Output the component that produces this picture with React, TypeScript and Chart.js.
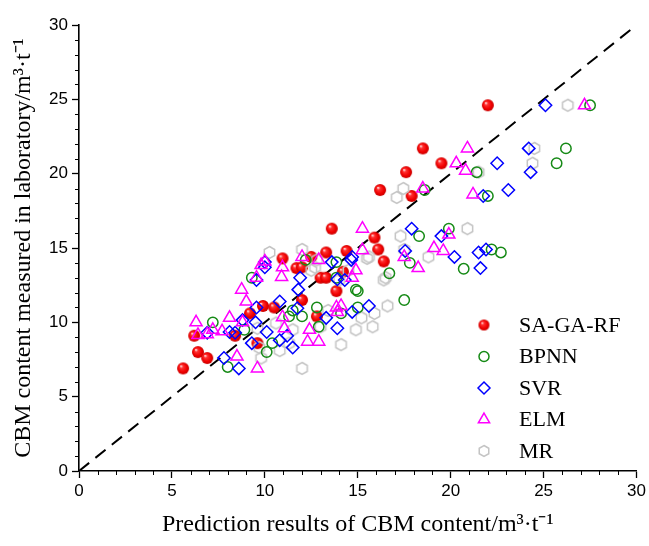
import React, { useEffect, useRef } from 'react';
import { Chart, registerables } from 'chart.js';
import { drawPoint } from 'chart.js/helpers';

Chart.register(...registerables);

const AXIS_MIN = 0;
const AXIS_MAX = 30;
const MAJOR_STEP = 5;
const MINOR_STEP = 1;
const xTitle = 'Prediction results of CBM content/m\u00B3\u00B7t\u207B\u00B9';
const yTitle = 'CBM content measured in laboratory/m\u00B3\u00B7t\u207B\u00B9';
const seriesNames = ['SA-GA-RF', 'BPNN', 'SVR', 'ELM', 'MR'];
const diagonal = [[0, 0], [30, 30]];

const saGaRf = [
  [5.6, 6.9], [6.4, 8.0], [6.9, 7.6], [6.2, 9.1], [8.4, 9.1], [9.2, 10.6], [9.9, 11.1],
  [10.5, 11.0], [9.6, 8.6], [10.95, 14.3], [11.7, 13.65], [12.0, 13.7], [12.5, 14.4],
  [13.3, 14.7], [14.4, 14.8], [13.0, 13.0], [13.3, 13.0], [13.85, 12.1], [14.2, 13.4],
  [12.0, 11.5], [12.8, 10.4], [13.6, 16.3], [15.9, 15.7], [16.1, 14.9], [16.4, 14.1],
  [22.0, 24.6], [18.5, 21.7], [19.5, 20.7], [17.6, 20.1], [16.2, 18.9], [17.9, 18.5],
];
const bpnn = [
  [7.2, 10.0], [8.0, 7.0], [10.1, 8.0], [10.4, 8.6], [9.3, 13.0], [8.9, 9.5], [13.85, 13.0],
  [14.9, 12.2], [12.8, 11.0], [15.0, 11.0], [11.5, 10.8], [12.0, 10.4], [12.9, 9.7],
  [13.85, 14.05], [16.7, 13.3], [14.1, 10.6], [12.2, 14.2], [27.5, 24.6], [26.2, 21.7],
  [25.7, 20.7], [21.4, 20.1], [18.6, 18.9], [22.0, 18.5], [19.9, 16.3], [18.3, 15.8],
  [22.2, 14.9], [22.7, 14.7], [20.7, 13.6], [17.8, 14.0], [15.0, 12.1], [17.5, 11.5], [11.3, 10.4],
];
const svr = [
  [6.9, 9.3], [8.1, 9.35], [8.4, 9.3], [9.3, 8.6], [7.8, 7.6], [8.6, 6.9], [10.1, 9.35],
  [10.0, 13.7], [9.55, 11.0], [9.5, 10.0], [8.8, 10.15], [10.0, 14.05], [9.55, 12.85],
  [11.9, 13.0], [11.8, 12.2], [13.6, 14.05], [14.65, 14.2], [14.3, 12.85], [10.8, 11.4],
  [11.75, 10.95], [13.3, 10.3], [13.9, 9.6], [14.7, 10.7], [15.6, 11.1], [11.2, 9.1],
  [10.8, 8.8], [11.5, 8.3], [25.1, 24.6], [24.2, 21.7], [24.3, 20.1], [22.5, 20.7],
  [23.1, 18.9], [21.75, 18.5], [17.9, 16.3], [19.5, 15.8], [21.5, 14.7], [21.9, 14.9],
  [21.6, 13.65], [20.2, 14.4], [17.55, 14.8], [14.7, 14.4], [13.9, 12.9],
];
const elm = [
  [6.3, 10.0], [8.1, 10.3], [8.8, 10.0], [7.2, 9.5], [7.7, 9.4], [6.4, 9.15], [6.9, 9.2],
  [8.5, 7.7], [9.6, 6.9], [8.75, 12.2], [9.0, 11.4], [9.55, 13.0], [9.8, 13.85], [10.0, 14.1],
  [15.25, 16.3], [15.25, 14.85], [10.95, 13.7], [10.9, 13.05], [12.0, 14.4], [12.9, 14.2],
  [14.7, 13.0], [14.9, 13.5], [13.85, 11.0], [14.1, 11.1], [10.95, 10.35], [12.4, 9.5],
  [12.3, 8.7], [12.9, 8.7], [11.05, 9.6], [13.9, 10.7], [27.2, 24.6], [20.9, 21.7],
  [20.3, 20.7], [20.8, 20.2], [18.5, 19.0], [21.2, 18.6], [19.9, 15.9], [19.1, 15.0],
  [19.6, 14.8], [17.5, 14.4], [18.25, 13.65],
];
const mr = [
  [26.3, 24.6], [24.5, 21.7], [24.4, 20.7], [21.5, 20.1], [17.45, 19.0], [17.1, 18.4],
  [20.9, 16.3], [17.3, 15.8], [18.8, 14.4], [15.6, 14.4], [16.5, 13.0], [17.5, 14.9],
  [16.6, 11.1], [10.25, 14.7], [16.4, 12.85], [15.9, 10.6], [15.2, 10.3], [15.8, 9.7],
  [14.9, 9.5], [12.5, 13.5], [14.0, 12.85], [14.5, 13.5], [13.0, 9.7], [12.0, 14.9],
  [12.8, 14.2], [12.7, 13.7], [15.5, 14.3], [14.1, 8.5], [13.4, 10.8], [10.6, 9.95],
  [9.6, 9.6], [11.3, 8.6], [9.7, 8.3], [9.8, 7.6], [10.8, 8.1], [12.0, 6.9], [11.5, 9.5],
];

const toPts = (arr: number[][]) => arr.map(([x, y]) => ({ x, y }));

function makeSphere(r: number): HTMLCanvasElement {
  const s = Math.ceil(r * 2) + 2;
  const c = document.createElement('canvas');
  c.width = s; c.height = s;
  const g = c.getContext('2d')!;
  const cx = s / 2, cy = s / 2;
  const grad = g.createRadialGradient(cx - r * 0.35, cy - r * 0.4, r * 0.05, cx, cy, r);
  grad.addColorStop(0, '#ffe6e6');
  grad.addColorStop(0.25, '#ff3030');
  grad.addColorStop(0.7, '#f00000');
  grad.addColorStop(1, '#c80000');
  g.fillStyle = grad;
  g.beginPath(); g.arc(cx, cy, r, 0, Math.PI * 2); g.fill();
  return c;
}

function makeHex(r: number, color: string, lw: number): HTMLCanvasElement {
  const s = Math.ceil(r * 2 + lw * 2) + 2;
  const c = document.createElement('canvas');
  c.width = s; c.height = s;
  const g = c.getContext('2d')!;
  const cx = s / 2, cy = s / 2;
  g.strokeStyle = color; g.lineWidth = lw;
  g.beginPath();
  for (let k = 0; k < 6; k++) {
    const a = -Math.PI / 2 + (k * Math.PI) / 3;
    const px = cx + r * Math.cos(a), py = cy + r * Math.sin(a);
    if (k === 0) g.moveTo(px, py); else g.lineTo(px, py);
  }
  g.closePath(); g.stroke();
  return c;
}

export default function App() {
  const ref = useRef<HTMLCanvasElement | null>(null);
  useEffect(() => {
    document.body.style.margin = '0';
    const sphere = makeSphere(6);
    const hex = makeHex(6, '#c4c4c4', 1.5);
    const sphereLg = makeSphere(5.5);
    const hexLg = makeHex(5.5, '#c4c4c4', 1.5);

    const legendDefs = [
      { label: seriesNames[0], style: sphereLg, radius: 5.5, color: '#f00', lw: 0 },
      { label: seriesNames[1], style: 'circle', radius: 5, color: '#168a16', lw: 1.5 },
      { label: seriesNames[2], style: 'rectRot', radius: 6, color: '#0000ff', lw: 1.5 },
      { label: seriesNames[3], style: 'triangle', radius: 6.5, color: '#ff00ff', lw: 1.5 },
      { label: seriesNames[4], style: hexLg, radius: 5.5, color: '#c4c4c4', lw: 0 },
    ];

    const minorTicks = {
      id: 'minorTicks',
      afterDraw(chart: any) {
        const ctx = chart.ctx;
        const xs = chart.scales.x, ys = chart.scales.y;
        ctx.save();
        ctx.strokeStyle = '#000';
        ctx.lineWidth = 1;
        for (let v = AXIS_MIN; v <= AXIS_MAX; v += MINOR_STEP) {
          if (v % MAJOR_STEP === 0) continue;
          const px = Math.round(xs.getPixelForValue(v)) + 0.5;
          ctx.beginPath(); ctx.moveTo(px, ys.bottom); ctx.lineTo(px, ys.bottom + 4); ctx.stroke();
          const py = Math.round(ys.getPixelForValue(v)) + 0.5;
          ctx.beginPath(); ctx.moveTo(xs.left, py); ctx.lineTo(xs.left - 4, py); ctx.stroke();
        }
        // legend
        const lx = 484, tx = 519;
        const y0 = 325, dy = 31.5;
        ctx.font = '22px "Liberation Serif", "Times New Roman", serif';
        ctx.textBaseline = 'middle';
        ctx.textAlign = 'left';
        legendDefs.forEach((d, i) => {
          const y = y0 + i * dy;
          ctx.save();
          ctx.strokeStyle = d.color;
          ctx.fillStyle = 'rgba(0,0,0,0)';
          ctx.lineWidth = d.lw;
          drawPoint(ctx, { pointStyle: d.style as any, radius: d.radius, rotation: 0, borderWidth: d.lw }, lx, y);
          ctx.restore();
          ctx.fillStyle = '#000';
          ctx.fillText(d.label, tx, y + 1);
        });
        ctx.restore();
      },
    };

    const tickFont = { family: '"Liberation Sans", Arial, sans-serif', size: 17 };
    const titleFont = { family: '"Liberation Serif", "Times New Roman", serif', size: 24 };

    const chart = new Chart(ref.current!, {
      type: 'scatter',
      data: {
        datasets: [
          {
            type: 'line', label: 'y=x', data: toPts(diagonal), borderColor: '#000', borderWidth: 2,
            borderDash: [13, 8], pointRadius: 0, fill: false, order: 10,
          } as any,
          {
            label: seriesNames[0], data: toPts(saGaRf), pointStyle: sphere, pointRadius: 6, order: 5,
            backgroundColor: '#f00', borderColor: '#f00',
          },
          {
            label: seriesNames[4], data: toPts(mr), pointStyle: hex, pointRadius: 6, order: 4,
            backgroundColor: 'rgba(0,0,0,0)', borderColor: '#c4c4c4',
          },
          {
            label: seriesNames[1], data: toPts(bpnn), pointStyle: 'circle', pointRadius: 5.2, order: 3,
            backgroundColor: 'rgba(0,0,0,0)', borderColor: '#168a16', borderWidth: 1.5,
          },
          {
            label: seriesNames[2], data: toPts(svr), pointStyle: 'rectRot', pointRadius: 6.2, order: 2,
            backgroundColor: 'rgba(0,0,0,0)', borderColor: '#0000ff', borderWidth: 1.5,
          },
          {
            label: seriesNames[3], data: toPts(elm), pointStyle: 'triangle', pointRadius: 7, order: 1,
            backgroundColor: 'rgba(0,0,0,0)', borderColor: '#ff00ff', borderWidth: 1.5,
          },
        ],
      },
      options: {
        animation: false,
        responsive: false,
        layout: { padding: { top: 25, right: 11, left: 0, bottom: 0 } },
        plugins: { legend: { display: false }, tooltip: { enabled: false } },
        scales: {
          x: {
            type: 'linear', min: AXIS_MIN, max: AXIS_MAX,
            ticks: { stepSize: MAJOR_STEP, color: '#000', font: tickFont, padding: 3, maxRotation: 0 },
            grid: { drawOnChartArea: false, drawTicks: true, tickLength: 7, tickColor: '#000', tickWidth: 1.3 },
            border: { display: true, color: '#000', width: 1.6 },
            title: { display: true, text: xTitle, color: '#000', font: titleFont, padding: { top: 0, bottom: 7 } },
            afterFit: (s: any) => { s.height = 75; },
          },
          y: {
            type: 'linear', min: AXIS_MIN, max: AXIS_MAX,
            ticks: { stepSize: MAJOR_STEP, color: '#000', font: tickFont, padding: 4 },
            grid: { drawOnChartArea: false, drawTicks: true, tickLength: 7, tickColor: '#000', tickWidth: 1.3 },
            border: { display: true, color: '#000', width: 1.6 },
            title: { display: true, text: yTitle, color: '#000', font: titleFont, padding: { top: 9, bottom: 0 } },
            afterFit: (s: any) => { s.width = 79; },
          },
        },
      },
      plugins: [minorTicks],
    });
    return () => chart.destroy();
  }, []);
  return <canvas ref={ref} width={649} height={546} style={{ display: 'block' }} />;
}
